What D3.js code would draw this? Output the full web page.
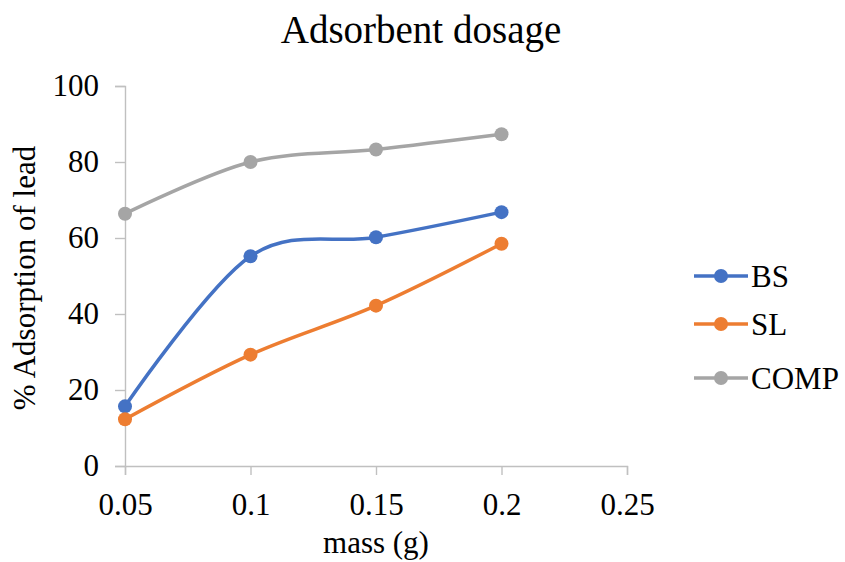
<!DOCTYPE html>
<html>
<head>
<meta charset="utf-8">
<script src="https://cdn.jsdelivr.net/npm/d3@7"></script>
<style>
  html, body { margin: 0; padding: 0; background: #fff; }
  svg { display: block; font-family: "Liberation Serif", "Times New Roman", serif; }
  .axis path, .axis line { stroke: #c0c0c0; stroke-width: 1.4; }
</style>
</head>
<body>
<div id="chart"></div>
<script>
// Adsorbent dosage: % adsorption of lead vs mass, smoothed Excel-style lines.
const masses = [0.05, 0.1, 0.15, 0.2];
const seriesNames = ["BS", "SL", "COMP"];
const bsValues = [15.7, 55.2, 60.2, 66.8];
const slValues = [12.3, 29.3, 42.2, 58.5];
const compValues = [66.4, 80.0, 83.3, 87.3];
const colors = ["#4472c4", "#ed7d31", "#a5a5a5"];
const xTicks = [0.05, 0.1, 0.15, 0.2, 0.25];
const yTicks = [0, 20, 40, 60, 80, 100];

const width = 845, height = 562;
const m = { top: 86, right: 218, bottom: 96, left: 125 };
const iW = width - m.left - m.right, iH = height - m.top - m.bottom;
const FONT = 31;

const x = d3.scaleLinear([0.05, 0.25], [0, iW]);
const y = d3.scaleLinear([0, 100], [iH, 0]);

const svg = d3.select("#chart").append("svg")
  .attr("width", width).attr("height", height);
const g = svg.append("g").attr("transform", `translate(${m.left},${m.top})`);

const styleAxis = (sel) => {
  sel.attr("font-family", null).attr("font-size", null);
  sel.selectAll("text").attr("font-family", "Liberation Serif, serif")
    .attr("font-size", FONT).attr("fill", "#000");
};

g.append("g").attr("class", "axis").attr("transform", `translate(0,${iH})`)
  .call(d3.axisBottom(x).tickValues(xTicks).tickSize(9).tickPadding(18)
    .tickFormat((d) => String(+d.toFixed(2))))
  .call(styleAxis);
g.append("g").attr("class", "axis")
  .call(d3.axisLeft(y).tickValues(yTicks).tickSize(10).tickPadding(16))
  .call(styleAxis);

const series = [bsValues, slValues, compValues].map((vals, i) => ({
  name: seriesNames[i], color: colors[i],
  pts: masses.map((mv, j) => ({ x: mv, v: vals[j] }))
}));

const line = d3.line().x((p) => x(p.x)).y((p) => y(p.v)).curve(d3.curveCardinal.tension(0));
for (const s of series) {
  g.append("path").datum(s.pts).attr("fill", "none").attr("stroke", s.color)
    .attr("stroke-width", 3.5).attr("stroke-linecap", "round").attr("d", line);
  g.selectAll(null).data(s.pts).join("circle")
    .attr("cx", (p) => x(p.x)).attr("cy", (p) => y(p.v)).attr("r", 7).attr("fill", s.color);
}

// Titles
svg.append("text").attr("x", 421).attr("y", 43).attr("text-anchor", "middle")
  .attr("font-size", 39).text("Adsorbent dosage");
svg.append("text").attr("x", m.left + x(0.15)).attr("y", 553).attr("text-anchor", "middle")
  .attr("font-size", FONT).text("mass (g)");
svg.append("text").attr("text-anchor", "middle").attr("font-size", FONT)
  .attr("transform", `translate(35,${m.top + iH / 2 + 2}) rotate(-90)`).text("% Adsorption of lead");

// Legend
const legendY = [276, 324, 378];
const lg = svg.append("g");
series.forEach((s, i) => {
  const row = lg.append("g").attr("transform", `translate(694,${legendY[i]})`);
  row.append("line").attr("x1", 0).attr("x2", 54).attr("stroke", s.color).attr("stroke-width", 3.5);
  row.append("circle").attr("cx", 27).attr("r", 7).attr("fill", s.color);
  row.append("text").attr("x", 57).attr("dy", "0.35em").attr("font-size", FONT).text(s.name);
});
</script>
</body>
</html>
